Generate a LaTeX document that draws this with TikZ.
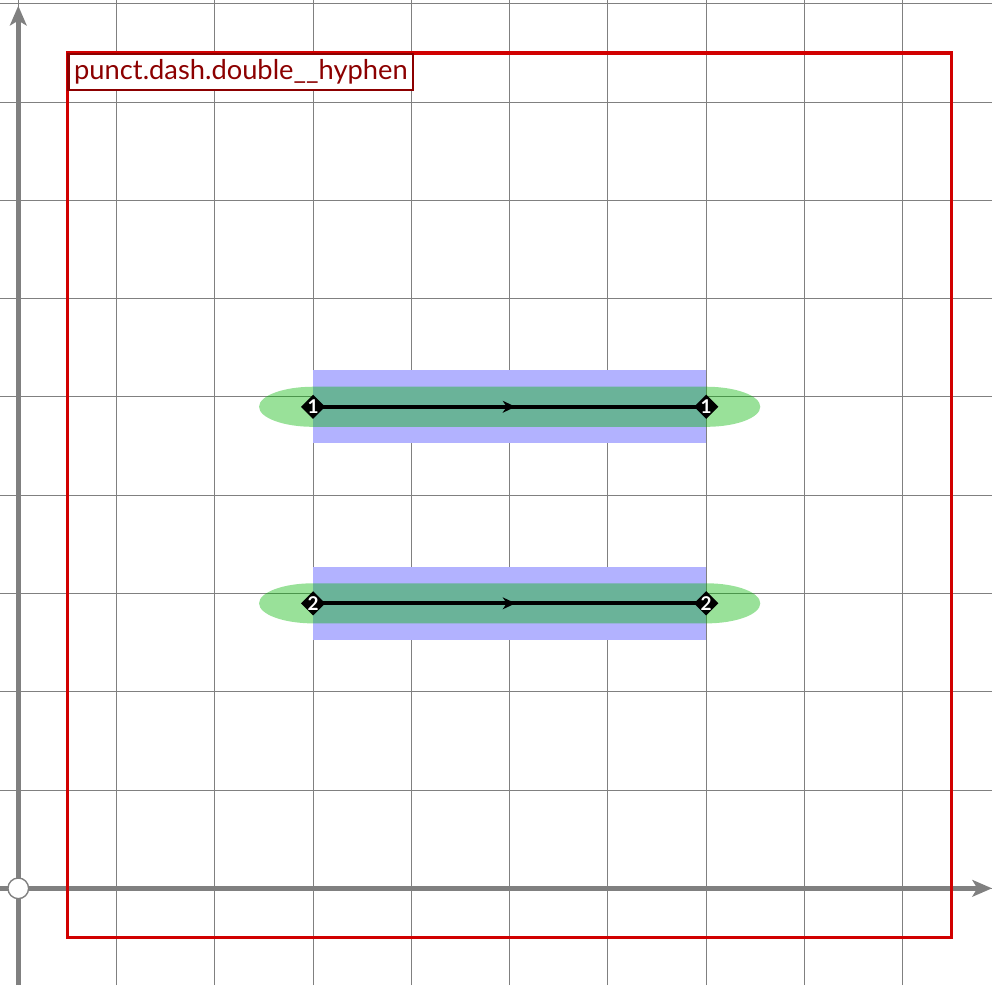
\documentclass[tikz,border=0pt]{standalone}
\usepackage{fontspec}
\setsansfont{Lato}
\usetikzlibrary{arrows.meta,positioning,shapes.geometric,decorations.markings}
\definecolor{boxred}{rgb}{.82,0,0}
\definecolor{labelred}{rgb}{.55,0,0}
\definecolor{hullgreen}{rgb}{0,.71,0}

\begin{document}
\begin{tikzpicture}[
    gridline/.style={gray, line width=0.3pt},
    axis/.style={-{Stealth[length=2mm,width=1.7mm,inset=0.5mm]}, gray, line width=1.3pt},
    origin/.style={circle, draw=gray, fill=white, line width=0.4pt,
                   minimum size=0.21cm, inner sep=0pt},
    glyphbox/.style={draw=boxred, line width=0.9pt},
    tag/.style={draw=labelred, text=labelred, line width=0.7pt, fill=white,
                font=\sffamily\fontsize{7.9}{10}\selectfont, inner sep=1.6pt,
                anchor=north west},
    band/.style={fill=blue!30},
    hull/.style={fill=hullgreen, fill opacity=0.4},
    stroke/.style={black, line width=1.1pt,
                   postaction={decorate, decoration={markings,
                     mark=at position 0.5 with {\arrow[xshift=0.6mm]{Stealth[length=1.3mm,width=1.2mm,inset=0.4mm]}}}}},
    knot/.style={diamond, fill=black, text=white, inner sep=0pt,
                 minimum size=0.25cm, font=\sffamily\bfseries\fontsize{5.5}{5.5}\selectfont}
  ]
  \useasboundingbox (-0.186,-0.984) rectangle (9.908,9.039);
  % grid and axes
  \draw[gridline] (-0.186,-0.984) grid (9.908,9.039);
  \draw[axis] (-0.186,0) -- (9.908,0);
  \draw[axis] (0,-0.984) -- (0,8.98);
  \node[origin] (O) at (0,0) {};
  % glyph frame
  \draw[glyphbox] (0.5,-0.5) rectangle (9.5,8.5);
  \node[tag] (name) at (0.5,8.5) {punct.dash.double\_\_hyphen};
  % the two hyphens
  \foreach \y/\n in {4.9/1, 2.9/2} {
    \fill[band] (3,\y-0.373) rectangle (7,\y+0.373);
    \fill[hull] (3,\y+0.204) -- (7,\y+0.204)
      arc[start angle=90, end angle=-90, x radius=0.55, y radius=0.204]
      -- (3,\y-0.204)
      arc[start angle=270, end angle=90, x radius=0.55, y radius=0.204] -- cycle;
    \coordinate (s\n) at (3,\y);
    \coordinate (e\n) at (7,\y);
    \draw[stroke] (s\n) -- (e\n);
    \node[knot] (sk\n) at (s\n) {\n};
    \node[knot] (ek\n) at (e\n) {\n};
  }
\end{tikzpicture}
\end{document}
